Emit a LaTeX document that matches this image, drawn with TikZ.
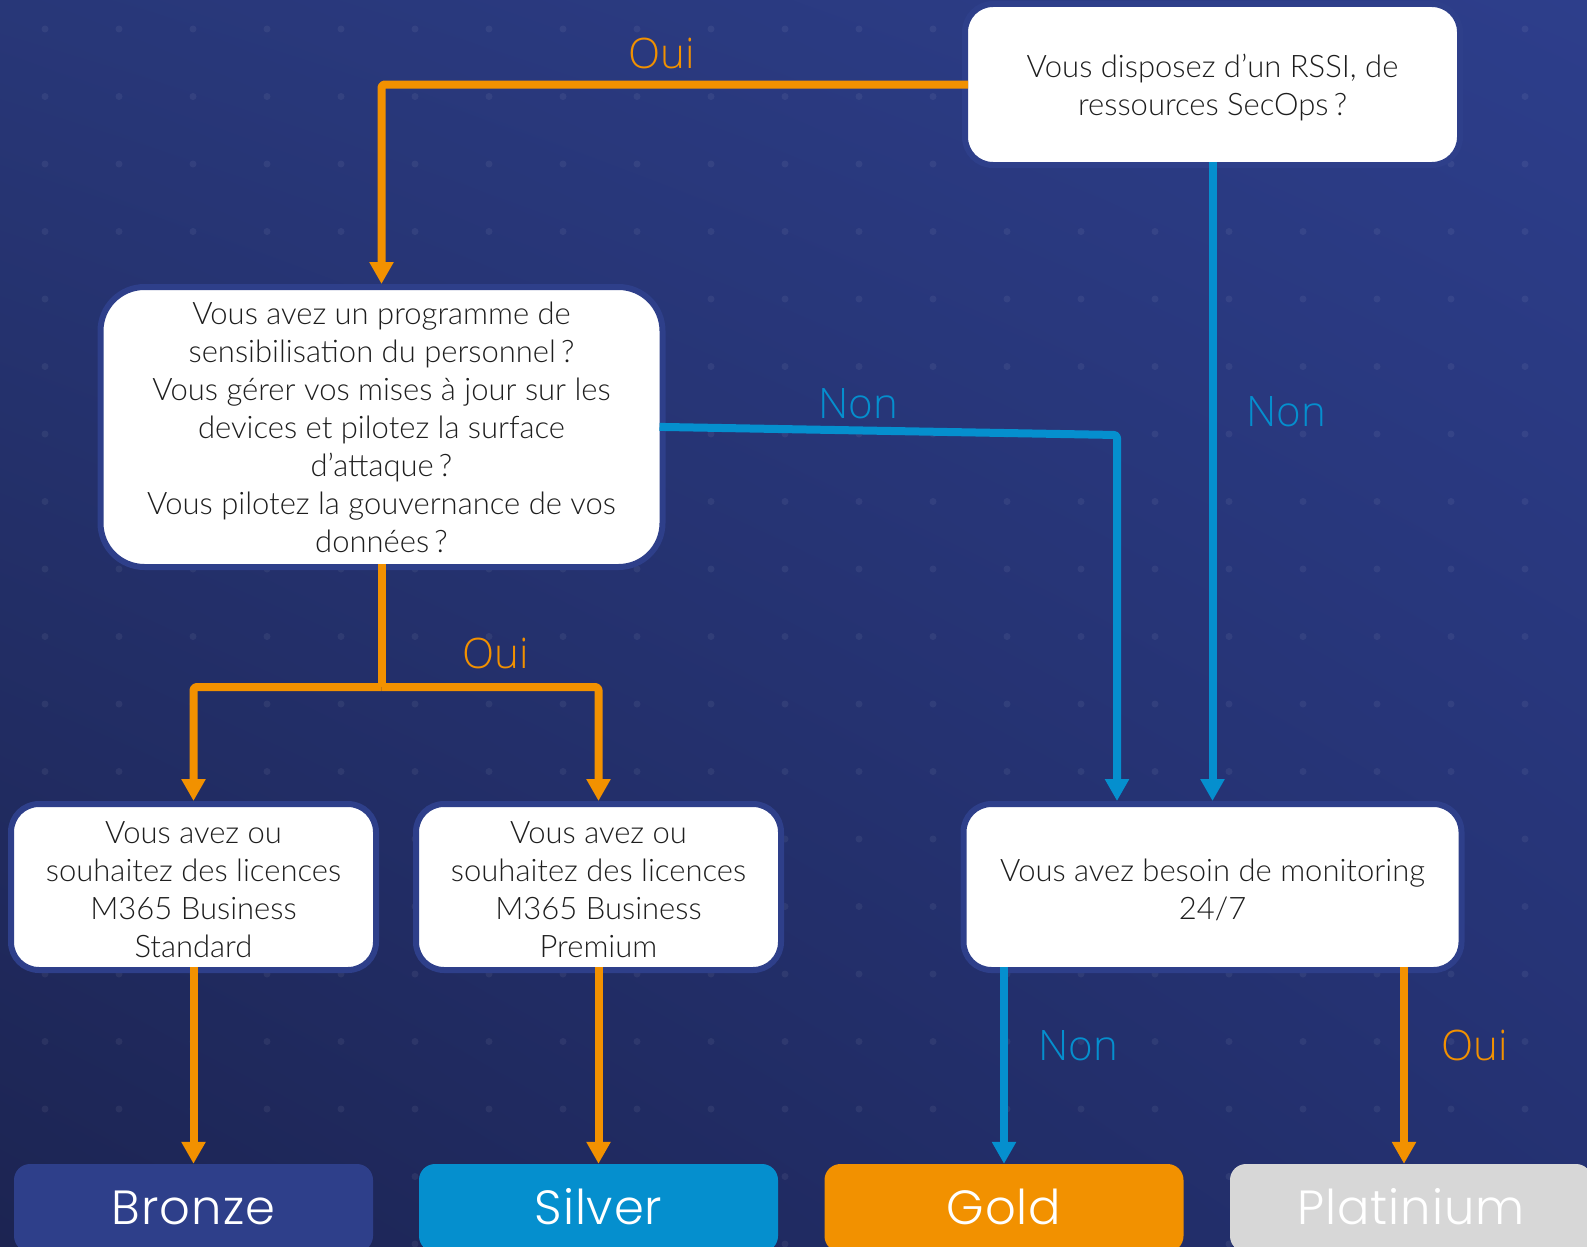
\documentclass[tikz,border=0pt]{standalone}
\usepackage{fontspec}
\usetikzlibrary{arrows.meta,calc,shadings}
\IfFontExistsTF{Lato Light}{\newfontfamily\boxfont{Lato Light}}{\newfontfamily\boxfont{Lato}}
\IfFontExistsTF{Open Sans Light}{\newfontfamily\labfont{Open Sans Light}}{\newfontfamily\labfont{Open Sans}}
\IfFontExistsTF{Poppins Light}{\newfontfamily\tierfont{Poppins Light}[LetterSpace=2]}{\newfontfamily\tierfont{Poppins}}
\definecolor{bordc}{HTML}{2E3F8A}
\definecolor{orac}{HTML}{F29100}
\definecolor{bluc}{HTML}{058FCE}
\definecolor{platc}{HTML}{D7D7D7}
\definecolor{txtc}{HTML}{1E1E1E}
\definecolor{bgtl}{HTML}{283778}
\definecolor{bgtr}{HTML}{2D3E8B}
\definecolor{bgbl}{HTML}{1C2452}
\definecolor{bgbr}{HTML}{243171}
\newcommand{\lowertext}[2]{\raisebox{-#1}[\height][\depth]{\begin{tabular}{@{}c@{}}#2\end{tabular}}}
\begin{document}
\begin{tikzpicture}[x=1pt,y=-1pt,
  qbox/.style={draw=bordc, line width=6pt, fill=white, align=center,
    font=\boxfont\fontsize{31}{38}\selectfont, text=txtc, inner sep=0pt},
  tier/.style={rounded corners=16pt, text=white, minimum width=359pt,
    minimum height=88pt, inner sep=0pt, text height=33pt, text depth=0pt,
    font=\tierfont\fontsize{48}{48}\selectfont},
  ora/.style={draw=orac, line width=8pt, line join=round, rounded corners=3pt,
    -{Triangle[width=23pt,length=22pt]}},
  blu/.style={draw=bluc, line width=8pt, line join=round, rounded corners=3pt,
    -{Triangle[width=23pt,length=22pt]}},
  frombox/.style={shorten <=-6pt},
  lab/.style={font=\labfont\fontsize{42}{42}\selectfont, anchor=base}
]
\useasboundingbox (0,0) rectangle (1587,1247);
\clip (0,0) rectangle (1587,1247);
\shade[upper left=bgtl, upper right=bgtr, lower left=bgbl, lower right=bgbr]
  (0,0) rectangle (1587,1247);
\foreach \i in {0,...,21}{
  \foreach \j in {0,...,18}{
    \fill[white, opacity=0.06] (45+74*\i, 29+67.5*\j) circle (3.5pt);
  }
}
% question boxes
\node[qbox, rounded corners=28pt, minimum width=495pt, minimum height=161pt] (top)
  at (1212.5,84.5) {\lowertext{4pt}{Vous disposez d’un RSSI, de\\ressources SecOps\,?}};
\node[qbox, rounded corners=44pt, minimum width=562pt, minimum height=280pt] (mid)
  at (381.5,427) {Vous avez un programme de\\sensibilisation du personnel\,?\\Vous gérer vos mises à jour sur les\\devices et pilotez la surface\\d’attaque\,?\\Vous pilotez la gouvernance de vos\\données\,?};
\node[qbox, rounded corners=28pt, minimum width=365pt, minimum height=166pt] (std)
  at (193.5,887) {\lowertext{6pt}{Vous avez ou\\souhaitez des licences\\M365 Business\\Standard}};
\node[qbox, rounded corners=28pt, minimum width=365pt, minimum height=166pt] (prem)
  at (598.5,887) {\lowertext{6pt}{Vous avez ou\\souhaitez des licences\\M365 Business\\Premium}};
\node[qbox, rounded corners=28pt, minimum width=498pt, minimum height=166pt] (mon)
  at (1212.5,887) {\lowertext{6pt}{Vous avez besoin de monitoring\\24/7}};
% tiers
\node[tier, fill=bordc] (bronze) at (193.5,1208) {Bronze};
\node[tier, fill=bluc] (silver) at (598.5,1208) {Silver};
\node[tier, fill=orac] (gold) at (1004,1208) {Gold};
\node[tier, fill=platc, minimum width=362pt] (plat) at (1411,1208) {Platinium};
% helper coordinates
\coordinate (c1) at (1117,435);
\coordinate (j1) at (381.5,687);
\coordinate (px) at (1404,0);
% connectors
\draw[ora, frombox] (top.west) -| (mid.north);
\draw[blu, frombox] (top.south) -- (mon.north);
\draw[blu, frombox] (mid.east) -- (c1) -- (c1 |- mon.north);
\draw[draw=orac, line width=8pt, frombox] (mid.south) -- (j1);
\draw[ora] (j1) -| (std.north);
\draw[ora] (j1) -| (prem.north);
\draw[ora, frombox] (std.south) -- (bronze.north);
\draw[ora, frombox] (prem.south) -- (silver.north);
\draw[blu, frombox] (mon.south -| gold.north) -- (gold.north);
\draw[ora, frombox] (mon.south -| px) -- (plat.north -| px);
% labels
\node[lab, text=orac] (l1) at (662,69) {Oui};
\node[lab, text=bluc] (l2) at (858,418) {Non};
\node[lab, text=bluc] (l3) at (1286,426) {Non};
\node[lab, text=orac] (l4) at (496,668) {Oui};
\node[lab, text=bluc] (l5) at (1078,1060) {Non};
\node[lab, text=orac] (l6) at (1475,1060) {Oui};
\end{tikzpicture}
\end{document}
